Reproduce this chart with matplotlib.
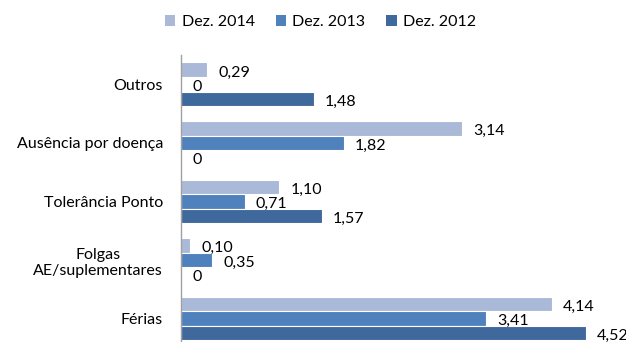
import matplotlib
matplotlib.use("Agg")
import matplotlib.pyplot as plt
from matplotlib.patches import Patch
import numpy as np

categories = ["Outros", "Ausência por doença", "Tolerância Ponto",
              "Folgas\nAE/suplementares", "Férias"]
series_names = ["Dez. 2014", "Dez. 2013", "Dez. 2012"]
dez_2014 = [0.29, 3.14, 1.10, 0.10, 4.14]
dez_2013 = [0.0, 1.82, 0.71, 0.35, 3.41]
dez_2012 = [1.48, 0.0, 1.57, 0.0, 4.52]
colors = ["#AAB9D8", "#4F81BD", "#3F689C"]

plt.rcParams["font.family"] = ["Lato", "DejaVu Sans"]

fig = plt.figure(figsize=(6.26, 3.42), dpi=100)
ax = fig.add_axes([181 / 626, 0.0, 1 - 181 / 626, (342 - 55) / 342])

pos = np.arange(len(categories)) + 0.5
h = 0.248
offsets = [-h, 0, h]
for vals, off, col in zip([dez_2014, dez_2013, dez_2012], offsets, colors):
    ax.barh(pos + off, vals, height=h, color=col, edgecolor="white", linewidth=0.8)
    for y, v in zip(pos + off, vals):
        ax.annotate(f"{v:.2f}".replace(".", ",") if v != 0 else "0",
                    xy=(v, y), xytext=(8, -2), textcoords="offset points",
                    ha="left", va="center", fontsize=11.5, color="#000000")

ax.set_ylim(4.9, 0)
ax.set_xlim(0, 4.97)
ax.set_yticks(pos)
ax.set_yticklabels(categories, fontsize=11.5, ha="right", multialignment="center")
ax.tick_params(axis="y", length=0, pad=13)
ax.set_xticks([])
for s in ["top", "right", "bottom"]:
    ax.spines[s].set_visible(False)
ax.spines["left"].set_color("#A0A0A0")
ax.spines["left"].set_linewidth(1.0)

handles = [Patch(facecolor=c, edgecolor="none") for c in colors]
fig.legend(handles, series_names, loc="center", bbox_to_anchor=(0.512, 1 - 22 / 342),
           ncol=3, frameon=False, fontsize=11.5, handlelength=0.65, handleheight=0.65,
           handletextpad=0.4, columnspacing=1.3)

fig.savefig("out.png", dpi=100)
